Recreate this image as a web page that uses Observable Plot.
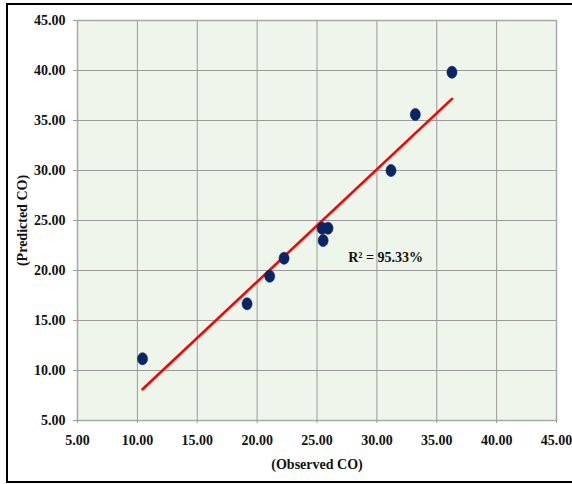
<!DOCTYPE html>
<html>
<head>
<meta charset="utf-8">
<script src="https://cdn.jsdelivr.net/npm/d3@7"></script>
<script src="https://cdn.jsdelivr.net/npm/@observablehq/plot@0.6"></script>
<style>
  html, body { margin: 0; padding: 0; background: #fff; overflow: hidden; width: 572px; height: 484px; }
  #wrap { position: relative; width: 572px; height: 484px; }
  #box { position: absolute; left: 6px; top: 3px; width: 580px; height: 476px; border: 2px solid #000; }
  #chart { position: absolute; left: 0; top: 0; }
</style>
</head>
<body>
<div id="wrap"><div id="box"></div><div id="chart"></div></div>
<script>
// Observed vs predicted CO
const observed  = [10.43, 19.16, 21.05, 22.25, 25.42, 25.92, 25.51, 31.18, 33.21, 36.27];
const predicted = [11.17, 16.67, 19.43, 21.23, 24.23, 24.23, 23.00, 30.00, 35.60, 39.83];
const tickValues = [5, 10, 15, 20, 25, 30, 35, 40, 45];
const r2Label = "R² = 95.33%";
const r2Pos = [{x: 27.6, y: 21.3}];

const data = observed.map((o, i) => ({x: o, y: predicted[i]}));

const font = "'Liberation Serif', 'Times New Roman', serif";

// slightly tall ellipse marker
const ellipse = {
  draw(context, size) {
    const r = Math.sqrt(size / Math.PI);
    const rx = r * 0.9, ry = r * 1.08, k = 0.5523;
    context.moveTo(rx, 0);
    context.bezierCurveTo(rx, ry * k, rx * k, ry, 0, ry);
    context.bezierCurveTo(-rx * k, ry, -rx, ry * k, -rx, 0);
    context.bezierCurveTo(-rx, -ry * k, -rx * k, -ry, 0, -ry);
    context.bezierCurveTo(rx * k, -ry, rx, -ry * k, rx, 0);
    context.closePath();
  }
};

const chart = Plot.plot({
  width: 572,
  height: 484,
  marginLeft: 77,
  marginRight: 16,
  marginTop: 20,
  marginBottom: 64,
  style: {fontFamily: font, fontSize: "14px", fontWeight: "bold", color: "#111", background: "transparent"},
  x: {domain: [5, 45]},
  y: {domain: [5, 45]},
  marks: [
    Plot.frame({fill: "#eef5ea", stroke: null}),
    Plot.gridX(tickValues, {stroke: "#9a9a9a", strokeOpacity: 1, strokeWidth: 1}),
    Plot.gridY(tickValues, {stroke: "#9a9a9a", strokeOpacity: 1, strokeWidth: 1}),
    Plot.frame({stroke: "#a8a8a8", strokeWidth: 1.5}),
    Plot.axisX({ticks: tickValues, tickFormat: d3.format(".2f"), tickSize: 3, tickPadding: 12, stroke: "#999",
      label: "(Observed CO)", labelAnchor: "center", labelArrow: "none", labelOffset: 48}),
    Plot.axisY({ticks: tickValues, tickFormat: d3.format(".2f"), tickSize: 4, tickPadding: 8, stroke: "#999",
      label: "(Predicted CO)", labelAnchor: "center", labelArrow: "none", labelOffset: 60}),
    Plot.linearRegressionY(data, {x: "x", y: "y", ci: 0, stroke: "#ff0000", strokeWidth: 2.6}),
    Plot.dot(data, {x: "x", y: "y", r: 5.6, symbol: ellipse, fill: "#0b2466", stroke: "#0b2466", strokeWidth: 0.5}),
    Plot.text(r2Pos, {x: "x", y: "y", text: () => r2Label, textAnchor: "start", fontSize: 14, fontWeight: "bold", fill: "#111"})
  ]
});
document.getElementById("chart").appendChild(chart);
</script>
</body>
</html>
